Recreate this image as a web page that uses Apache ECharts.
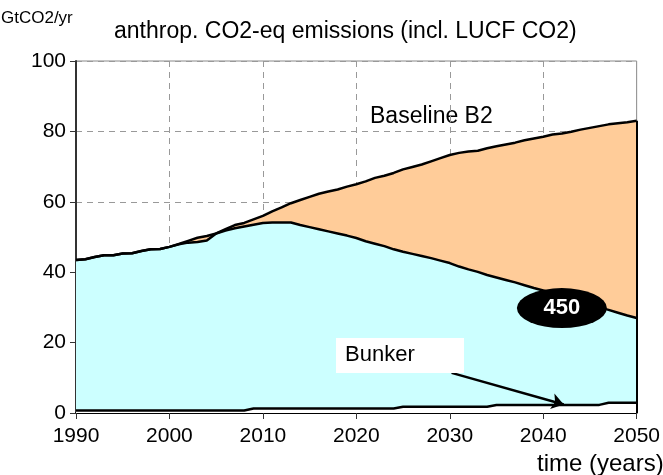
<!DOCTYPE html>
<html>
<head>
<meta charset="utf-8">
<script src="https://cdn.jsdelivr.net/npm/echarts@6/dist/echarts.min.js"></script>
<style>
    html, body { margin: 0; padding: 0; background: #fff; }
    #main { width: 663px; height: 475px; }
</style>
</head>
<body>
<div id="main"></div>
<script>
// years 1990 .. 2050
var years = [];
for (var y = 1990; y <= 2050; y++) years.push(y);

var xTicks = [1990, 2000, 2010, 2020, 2030, 2040, 2050];
var yTicks = [0, 20, 40, 60, 80, 100];

// Baseline B2 (GtCO2/yr)
var baseline = [
    43.5, 43.7, 44.3, 44.8, 44.8, 45.3, 45.4, 46.0, 46.5, 46.6,
    47.2, 48.0, 48.9, 49.8, 50.3, 51.0, 52.2, 53.4, 54.0, 55.0,
    56.0, 57.3, 58.4, 59.6, 60.5, 61.4, 62.3, 62.9, 63.5, 64.3,
    65.0, 65.8, 66.8, 67.4, 68.2, 69.2, 69.9, 70.6, 71.5, 72.4,
    73.3, 73.9, 74.3, 74.5, 75.2, 75.8, 76.3, 76.8, 77.5, 78.0,
    78.5, 79.1, 79.4, 79.9, 80.5, 81.0, 81.5, 82.0, 82.3, 82.6,
    83.0
];

// 450 ppm stabilisation path
var path450 = [
    43.5, 43.7, 44.3, 44.8, 44.8, 45.3, 45.4, 46.0, 46.5, 46.6,
    47.2, 47.9, 48.4, 48.6, 49.0, 51.0, 51.8, 52.5, 53.0, 53.5,
    54.0, 54.1, 54.1, 54.1, 53.4, 52.8, 52.2, 51.6, 51.0, 50.4,
    49.7, 48.8, 48.1, 47.4, 46.5, 45.8, 45.2, 44.6, 44.0, 43.3,
    42.6, 41.6, 40.8, 40.1, 39.2, 38.5, 37.8, 37.1, 36.3, 35.5,
    34.8, 34.0, 33.2, 32.5, 31.6, 30.8, 30.0, 29.3, 28.5, 27.7,
    27.0
];

// bunker fuels
var bunker = [
    0.7, 0.7, 0.7, 0.7, 0.7, 0.7, 0.7, 0.7, 0.7, 0.7,
    0.7, 0.7, 0.7, 0.7, 0.7, 0.7, 0.7, 0.7, 0.7, 1.3,
    1.3, 1.3, 1.3, 1.3, 1.3, 1.3, 1.3, 1.3, 1.3, 1.3,
    1.3, 1.3, 1.3, 1.3, 1.3, 1.8, 1.8, 1.8, 1.8, 1.8,
    1.8, 1.8, 1.8, 1.8, 1.8, 2.3, 2.3, 2.3, 2.3, 2.3,
    2.3, 2.3, 2.3, 2.3, 2.3, 2.3, 2.3, 2.9, 2.9, 2.9,
    2.9
];

function pairs(vals) {
    var res = [];
    for (var i = 0; i < years.length; i++) res.push([years[i], vals[i]]);
    return res;
}

var font = 'Liberation Sans, Arial, sans-serif';
var dash = { color: '#999', width: 1, type: [6, 5] };

var myChart = echarts.init(document.getElementById('main'));

var option = {
    animation: false,
    backgroundColor: '#fff',
    textStyle: { fontFamily: font, color: '#000' },
    grid: {
        left: 76,
        right: 25,
        top: 61,
        bottom: 62,
        show: true,
        borderColor: '#888',
        borderWidth: 1
    },
    xAxis: {
        type: 'value',
        min: xTicks[0],
        max: xTicks[xTicks.length - 1],
        interval: 10,
        axisLine: { lineStyle: { color: '#000', width: 2 } },
        axisTick: { length: 6, lineStyle: { color: '#333' } },
        axisLabel: {
            fontSize: 21, color: '#000', margin: 13, fontFamily: font,
            formatter: function (v) { return String(v); }
        },
        splitLine: {
            show: true,
            lineStyle: dash
        }
    },
    yAxis: {
        type: 'value',
        min: yTicks[0],
        max: yTicks[yTicks.length - 1],
        interval: 20,
        axisLine: { show: true, lineStyle: { color: '#333', width: 2 } },
        axisTick: { show: true, length: 6, lineStyle: { color: '#333' } },
        axisLabel: { fontSize: 21, color: '#000', margin: 10, fontFamily: font },
        splitLine: { show: true, lineStyle: dash }
    },
    series: [
        {
            name: 'Baseline B2',
            type: 'line',
            data: pairs(baseline),
            showSymbol: false,
            lineStyle: { color: '#000', width: 2.5 },
            areaStyle: { color: '#FFCC99', opacity: 1 },
            markLine: {
                silent: true,
                symbol: ['none', 'none'],
                label: { show: false },
                lineStyle: { color: '#000', width: 2, type: 'solid' },
                data: [[{ coord: [2050, 0] }, { coord: [2050, baseline[baseline.length - 1]] }]]
            }
        },
        {
            name: '450',
            type: 'line',
            data: pairs(path450),
            showSymbol: false,
            lineStyle: { color: '#000', width: 2.5 },
            areaStyle: { color: '#CCFFFF', opacity: 1 },
            markPoint: {
                symbol: 'circle',
                symbolSize: [90, 40],
                itemStyle: { color: '#000' },
                label: {
                    show: true,
                    formatter: '450',
                    color: '#fff',
                    fontSize: 22,
                    fontWeight: 'bold',
                    fontFamily: font
                },
                data: [{ coord: [2042, 29.8] }]
            }
        },
        {
            name: 'Bunker',
            type: 'line',
            data: pairs(bunker),
            showSymbol: false,
            lineStyle: { color: '#000', width: 2.5 },
            areaStyle: { color: '#fff', opacity: 1 },
            markLine: {
                silent: true,
                symbol: ['none', 'arrow'],
                symbolSize: 12,
                label: { show: false },
                lineStyle: { color: '#000', width: 2.5, type: 'solid' },
                data: [[{ coord: [2030.2, 11.4] }, { coord: [2042.2, 2.4] }]]
            }
        }
    ],
    graphic: [
        {
            type: 'text', left: 1, top: 10,
            style: { text: 'GtCO2/yr', font: '17px ' + font, fill: '#000' }
        },
        {
            type: 'text', left: 114, top: 20,
            style: { text: 'anthrop. CO2-eq emissions (incl. LUCF CO2)', font: '23px ' + font, fill: '#000' }
        },
        {
            type: 'text', left: 359, top: 100,
            style: {
                text: 'Baseline B2', font: '23px ' + font, fill: '#000',
                backgroundColor: '#fff', padding: [5, 48, 3, 11]
            }
        },
        {
            type: 'rect', shape: { x: 336, y: 338, width: 128, height: 35 },
            style: { fill: '#fff' }, z: 10
        },
        {
            type: 'text', left: 345, top: 344, z: 11,
            style: { text: 'Bunker', font: '22px ' + font, fill: '#000' }
        },
        {
            type: 'text', left: 537, top: 452,
            style: { text: 'time (years)', font: '24px ' + font, fill: '#000' }
        }
    ]
};

myChart.setOption(option);
</script>
</body>
</html>
